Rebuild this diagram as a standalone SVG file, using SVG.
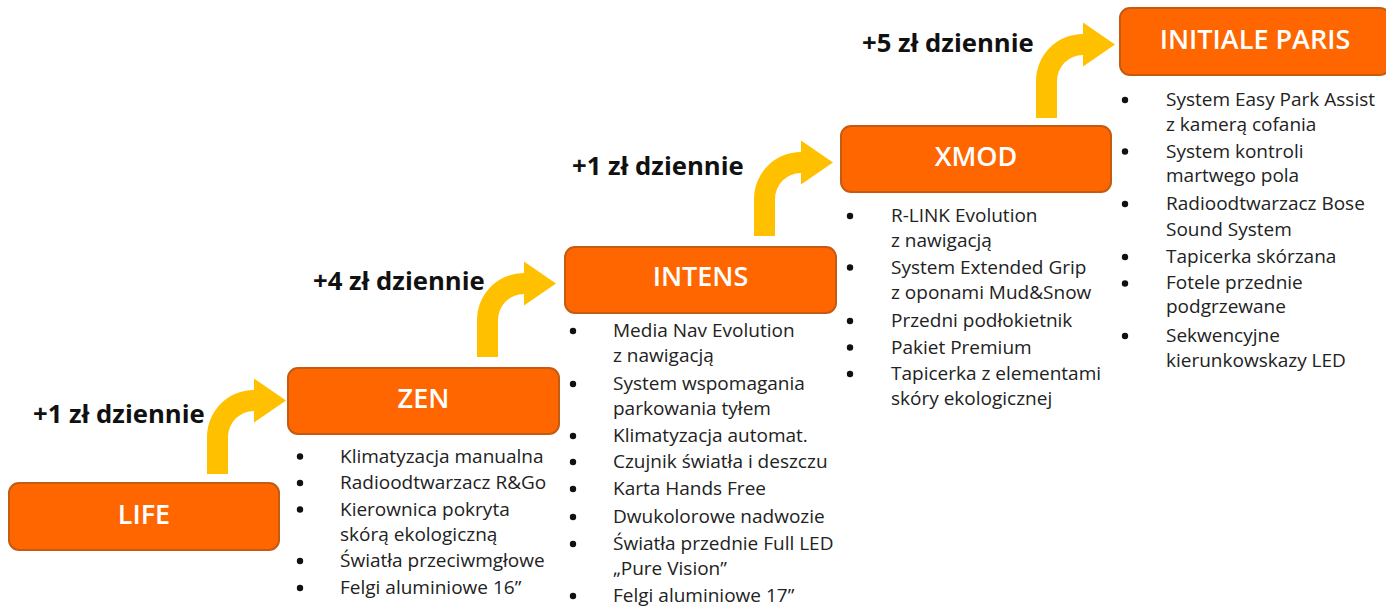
<svg xmlns="http://www.w3.org/2000/svg" width="1386" height="606" viewBox="0 0 1386 606">
<style>
.box{fill:#FF6600;stroke:#C55A11;stroke-width:2}
.ttl{font-family:"Open Sans","Liberation Sans",sans-serif;font-size:27px;font-weight:600;fill:#FFFFFF;text-anchor:middle}
.lbl{font-family:"Open Sans","Liberation Sans",sans-serif;font-size:25.7px;font-weight:700;fill:#111111}
.itm{font-family:"Open Sans","Liberation Sans",sans-serif;font-size:19px;fill:#222222}
.bul{fill:#111111}
.arr{fill:#FFC000}
</style>
<defs>
<path id="bend" d="M0,0 L0,-37 A47,47 0 0 1 47,-84 L47,-95.5 L79,-73.5 L47,-51.5 L47,-63 A26,26 0 0 0 21,-37 L21,0 Z"/>
</defs>
<rect width="1386" height="606" fill="#FFFFFF"/>
<g id="connectors">
<use href="#bend" class="arr" transform="translate(207,474)"/>
<use href="#bend" class="arr" transform="translate(477,357)"/>
<use href="#bend" class="arr" transform="translate(754,236)"/>
<use href="#bend" class="arr" transform="translate(1036,118)"/>
<text class="lbl" x="33" y="423">+1 zł dziennie</text>
<text class="lbl" x="313" y="290">+4 zł dziennie</text>
<text class="lbl" x="572" y="175">+1 zł dziennie</text>
<text class="lbl" x="862" y="52">+5 zł dziennie</text>
</g>
<g id="life">
<rect class="box" x="9" y="483" width="270" height="67" rx="10"/>
<text class="ttl" x="144" y="523.5">LIFE</text>
</g>
<g id="zen">
<rect class="box" x="288" y="368" width="271" height="66" rx="10"/>
<text class="ttl" x="423.5" y="407.5">ZEN</text>
<g class="bul"><circle cx="300" cy="456.5" r="3.2"/><circle cx="300" cy="483" r="3.2"/><circle cx="300" cy="509.5" r="3.2"/><circle cx="300" cy="561" r="3.2"/><circle cx="300" cy="588" r="3.2"/></g>
<text class="itm" x="340" y="463">Klimatyzacja manualna</text>
<text class="itm" x="340" y="489">Radioodtwarzacz R&amp;Go</text>
<text class="itm" x="340" y="515.5">Kierownica pokryta</text>
<text class="itm" x="340" y="541">skórą ekologiczną</text>
<text class="itm" x="340" y="567">Światła przeciwmgłowe</text>
<text class="itm" x="340" y="594">Felgi aluminiowe 16”</text>
</g>
<g id="intens">
<rect class="box" x="565" y="247" width="271" height="66" rx="10"/>
<text class="ttl" x="700.5" y="285.5">INTENS</text>
<g class="bul"><circle cx="573" cy="331" r="3.2"/><circle cx="573" cy="384" r="3.2"/><circle cx="573" cy="436" r="3.2"/><circle cx="573" cy="462" r="3.2"/><circle cx="573" cy="489" r="3.2"/><circle cx="573" cy="517" r="3.2"/><circle cx="573" cy="544" r="3.2"/><circle cx="573" cy="596" r="3.2"/></g>
<text class="itm" x="613" y="337">Media Nav Evolution</text>
<text class="itm" x="613" y="362">z nawigacją</text>
<text class="itm" x="613" y="390">System wspomagania</text>
<text class="itm" x="613" y="415">parkowania tyłem</text>
<text class="itm" x="613" y="442">Klimatyzacja automat.</text>
<text class="itm" x="613" y="468">Czujnik światła i deszczu</text>
<text class="itm" x="613" y="495">Karta Hands Free</text>
<text class="itm" x="613" y="523">Dwukolorowe nadwozie</text>
<text class="itm" x="613" y="550">Światła przednie Full LED</text>
<text class="itm" x="613" y="575">„Pure Vision”</text>
<text class="itm" x="613" y="602">Felgi aluminiowe 17”</text>
</g>
<g id="xmod">
<rect class="box" x="841" y="126" width="270" height="66" rx="10"/>
<text class="ttl" x="976" y="165.5">XMOD</text>
<g class="bul"><circle cx="850" cy="216" r="3.2"/><circle cx="850" cy="267.5" r="3.2"/><circle cx="850" cy="321" r="3.2"/><circle cx="850" cy="347.5" r="3.2"/><circle cx="850" cy="374" r="3.2"/></g>
<text class="itm" x="891" y="222">R-LINK Evolution</text>
<text class="itm" x="891" y="247">z nawigacją</text>
<text class="itm" x="891" y="273.5">System Extended Grip</text>
<text class="itm" x="891" y="298.5">z oponami Mud&amp;Snow</text>
<text class="itm" x="891" y="327">Przedni podłokietnik</text>
<text class="itm" x="891" y="353.5">Pakiet Premium</text>
<text class="itm" x="891" y="380">Tapicerka z elementami</text>
<text class="itm" x="891" y="405">skóry ekologicznej</text>
</g>
<g id="initiale-paris">
<rect class="box" x="1120" y="8" width="270" height="67" rx="10"/>
<text class="ttl" x="1255" y="48.5">INITIALE PARIS</text>
<g class="bul"><circle cx="1125" cy="100" r="3.2"/><circle cx="1125" cy="151.5" r="3.2"/><circle cx="1125" cy="204" r="3.2"/><circle cx="1125" cy="257" r="3.2"/><circle cx="1125" cy="283.5" r="3.2"/><circle cx="1125" cy="336" r="3.2"/></g>
<text class="itm" x="1166" y="106">System Easy Park Assist</text>
<text class="itm" x="1166" y="131">z kamerą cofania</text>
<text class="itm" x="1166" y="157.5">System kontroli</text>
<text class="itm" x="1166" y="182">martwego pola</text>
<text class="itm" x="1166" y="210">Radioodtwarzacz Bose</text>
<text class="itm" x="1166" y="236">Sound System</text>
<text class="itm" x="1166" y="263">Tapicerka skórzana</text>
<text class="itm" x="1166" y="289">Fotele przednie</text>
<text class="itm" x="1166" y="313">podgrzewane</text>
<text class="itm" x="1166" y="342">Sekwencyjne</text>
<text class="itm" x="1166" y="367">kierunkowskazy LED</text>
</g>
</svg>
